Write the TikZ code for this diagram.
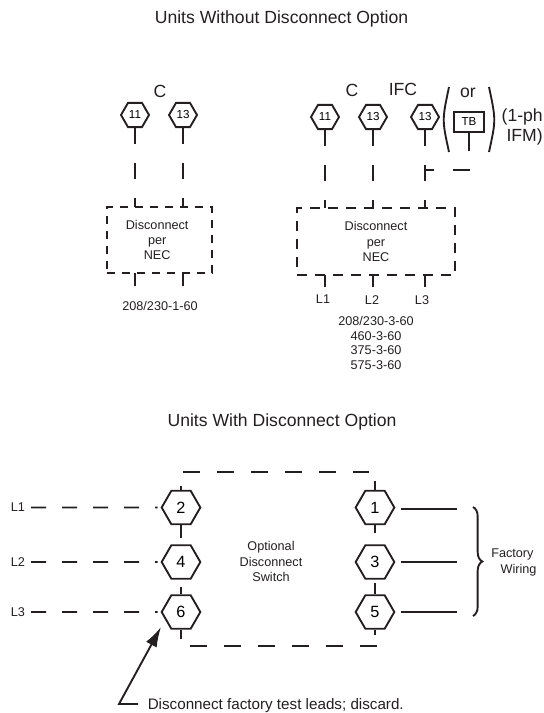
\documentclass[tikz,border=0pt]{standalone}
\usepackage{fontspec}
\setsansfont{Liberation Sans}
\usetikzlibrary{arrows.meta,decorations.pathreplacing,shapes.geometric}
\definecolor{inkblack}{HTML}{231F20}
\tikzset{every picture/.style={/utils/exec={\sffamily}}}
\tikzset{
  bigtext/.style={font=\fontsize{13.2pt}{15pt}\selectfont, text=inkblack, inner sep=0pt},
  smalltext/.style={font=\fontsize{9.5pt}{11.5pt}\selectfont, text=inkblack, inner sep=0pt, align=center},
  hexsmall/.style={draw=inkblack, line width=1.4pt, regular polygon, regular polygon sides=6, minimum size=21pt, inner sep=0pt, font=\fontsize{8.7pt}{10pt}\selectfont},
  hexlarge/.style={draw=inkblack, line width=1.4pt, regular polygon, regular polygon sides=6, minimum size=29pt, inner sep=0pt, font=\fontsize{12.2pt}{14pt}\selectfont},
  wire/.style={draw=inkblack, line width=1.4pt},
  risedash/.style={wire, dash pattern=on 12pt off 14.25pt},
  longdash/.style={wire, dash pattern=on 12.75pt off 12.75pt},
  linedash/.style={wire, dash pattern=on 11.25pt off 12pt},
  boxdash/.style={draw=inkblack, line width=1.4pt, inner sep=0pt, outer sep=0pt, align=center, font=\fontsize{9.5pt}{11.5pt}\selectfont, text=inkblack}
}

\begin{document}
\begin{tikzpicture}[x=0.75pt,y=-0.75pt]
  \useasboundingbox (0,0) rectangle (543,713);

  \node [bigtext] (titlea) at (281.5,19) {Units Without Disconnect Option};
  \node [bigtext] (titleb) at (282,422) {Units With Disconnect Option};

  % units without disconnect, single phase
  \node [bigtext] (ca) at (160,91) {C};
  \node [hexsmall] (ha) at (135,115) {11};
  \node [hexsmall] (hb) at (183,115) {13};
  \node [boxdash, dash pattern=on 6pt off 5.25pt, minimum width=78.75pt, minimum height=49.5pt] (boxa) at (159.5,240) {\hspace*{-3.5pt}Disconnect\\\hspace*{-3.5pt}per\\\hspace*{-3.5pt}NEC};
  \draw [risedash] (ha.south) -- (ha.south |- boxa.north);
  \draw [risedash] (hb.south) -- (hb.south |- boxa.north);
  \draw [wire] (boxa.south -| ha) -- ++(0,13);
  \draw [wire] (boxa.south -| hb) -- ++(0,13);
  \node [smalltext] (volta) at (160,306) {208/230-1-60};

  % units without disconnect, three phase
  \node [bigtext] (cb) at (352,90) {C};
  \node [bigtext] (ifc) at (403,89) {IFC};
  \node [hexsmall] (hc) at (325,117) {11};
  \node [hexsmall] (hd) at (373,117) {13};
  \node [hexsmall] (he) at (425,117) {13};
  \node [boxdash, dash pattern=on 7.5pt off 6pt, minimum width=118.5pt, minimum height=50.25pt] (boxb) at (376,241.5) {Disconnect\\per\\NEC};
  \draw [risedash] (hc.south) -- (hc.south |- boxb.north);
  \draw [risedash] (hd.south) -- (hd.south |- boxb.north);
  \draw [risedash] (he.south) -- (he.south |- boxb.north);
  \draw [wire] (boxb.south -| hc) -- ++(0,12);
  \draw [wire] (boxb.south -| hd) -- ++(0,12);
  \draw [wire] (boxb.south -| he) -- ++(0,12);
  \node [smalltext] (la) at (323,299) {L1};
  \node [smalltext] (lb) at (372,300) {L2};
  \node [smalltext] (lc) at (422,300) {L3};
  \node [smalltext, font=\fontsize{9.5pt}{10.8pt}\selectfont] (voltb) at (376,343) {208/230-3-60\\460-3-60\\375-3-60\\575-3-60};

  % the single phase alternative
  \node [bigtext] (orlab) at (468,93) {or};
  \node [draw=inkblack, line width=1.4pt, inner sep=0pt, minimum width=22.5pt, minimum height=14.5pt, font=\fontsize{8.7pt}{10pt}\selectfont] (tb) at (469,122) {TB};
  \draw [wire] (tb.south) -- ++(0,18);
  \draw [wire] (449,87) .. controls (442,120) .. (449,152);
  \draw [wire] (489,87) .. controls (496,120) .. (489,152);
  \node [bigtext, align=right, anchor=east] (ifm) at (543,127) {(1-ph\\IFM)};
  \coordinate (taptop) at (he.south |- 0,170);
  \draw [wire, dash pattern=on 6.75pt off 14.25pt on 13.5pt off 100pt] (taptop) -- (470,170);

  % units with disconnect
  \node [hexlarge] (h2) at (181,507.5) {2};
  \node [hexlarge] (h4) at (181,562) {4};
  \node [hexlarge] (h6) at (181,612) {6};
  \node [hexlarge] (h1) at (375,507.5) {1};
  \node [hexlarge] (h3) at (375,562) {3};
  \node [hexlarge] (h5) at (375,612) {5};

  \draw [wire] (h2.north) -- ++(0,-4);
  \draw [wire] (h2.south) -- ++(0,13);
  \draw [wire] (h6.north) -- ++(0,-7);
  \draw [wire] (h6.south) -- ++(0,9);
  \draw [wire] (h1.north) -- ++(0,-9);
  \draw [wire] (h1.south) -- ++(0,8);
  \draw [wire] (h5.north) -- ++(0,-11);
  \draw [wire] (h5.south) -- ++(0,5);

  \coordinate (topa) at (183,472);
  \coordinate (topb) at (369,472);
  \coordinate (bota) at (190,646);
  \coordinate (botb) at (377,646);
  \draw [longdash] (topa) -- (topb);
  \draw [longdash] (bota) -- (botb);

  \node [smalltext, anchor=west] (l1) at (10.5,507.5) {L1\hspace{4.5pt}};
  \node [smalltext, anchor=west] (l2) at (10.5,562) {L2\hspace{4.5pt}};
  \node [smalltext, anchor=west] (l3) at (10.5,612) {L3\hspace{4.5pt}};
  \draw [linedash, shorten >=2.25pt] (l1.east) -- (h2.west);
  \draw [linedash, shorten >=2.25pt] (l2.east) -- (h4.west);
  \draw [linedash, shorten >=2.25pt] (l3.east) -- (h6.west);

  \node [smalltext] (switchlab) at (271,561.5) {Optional\\Disconnect\\Switch};

  \coordinate (fwa) at (457,509);
  \coordinate (fwb) at (457,562);
  \coordinate (fwc) at (457,612);
  \draw [wire, shorten <=4.5pt] (h1.east |- fwa) -- (fwa);
  \draw [wire, shorten <=4.5pt] (h3.east |- fwb) -- (fwb);
  \draw [wire, shorten <=4.5pt] (h5.east |- fwc) -- (fwc);
  \draw [wire, decorate, decoration={brace,amplitude=7pt}] (473,507) -- (473,616);
  \node [smalltext, align=left, anchor=west] (factory) at (491,562.5) {Factory\\\hspace*{7pt}Wiring};

  \node [bigtext, anchor=west, font=\fontsize{11.4pt}{14pt}\selectfont] (leads) at (147.5,706) {Disconnect factory test leads; discard.};
  \coordinate (leadend) at (138,704);
  \coordinate (leadbend) at (119,704);
  \coordinate (leadtip) at (161,627);
  \draw [wire, -{Latex[length=15pt,width=9pt]}] (leadend) -- (leadbend) -- (leadtip);
\end{tikzpicture}
\end{document}
